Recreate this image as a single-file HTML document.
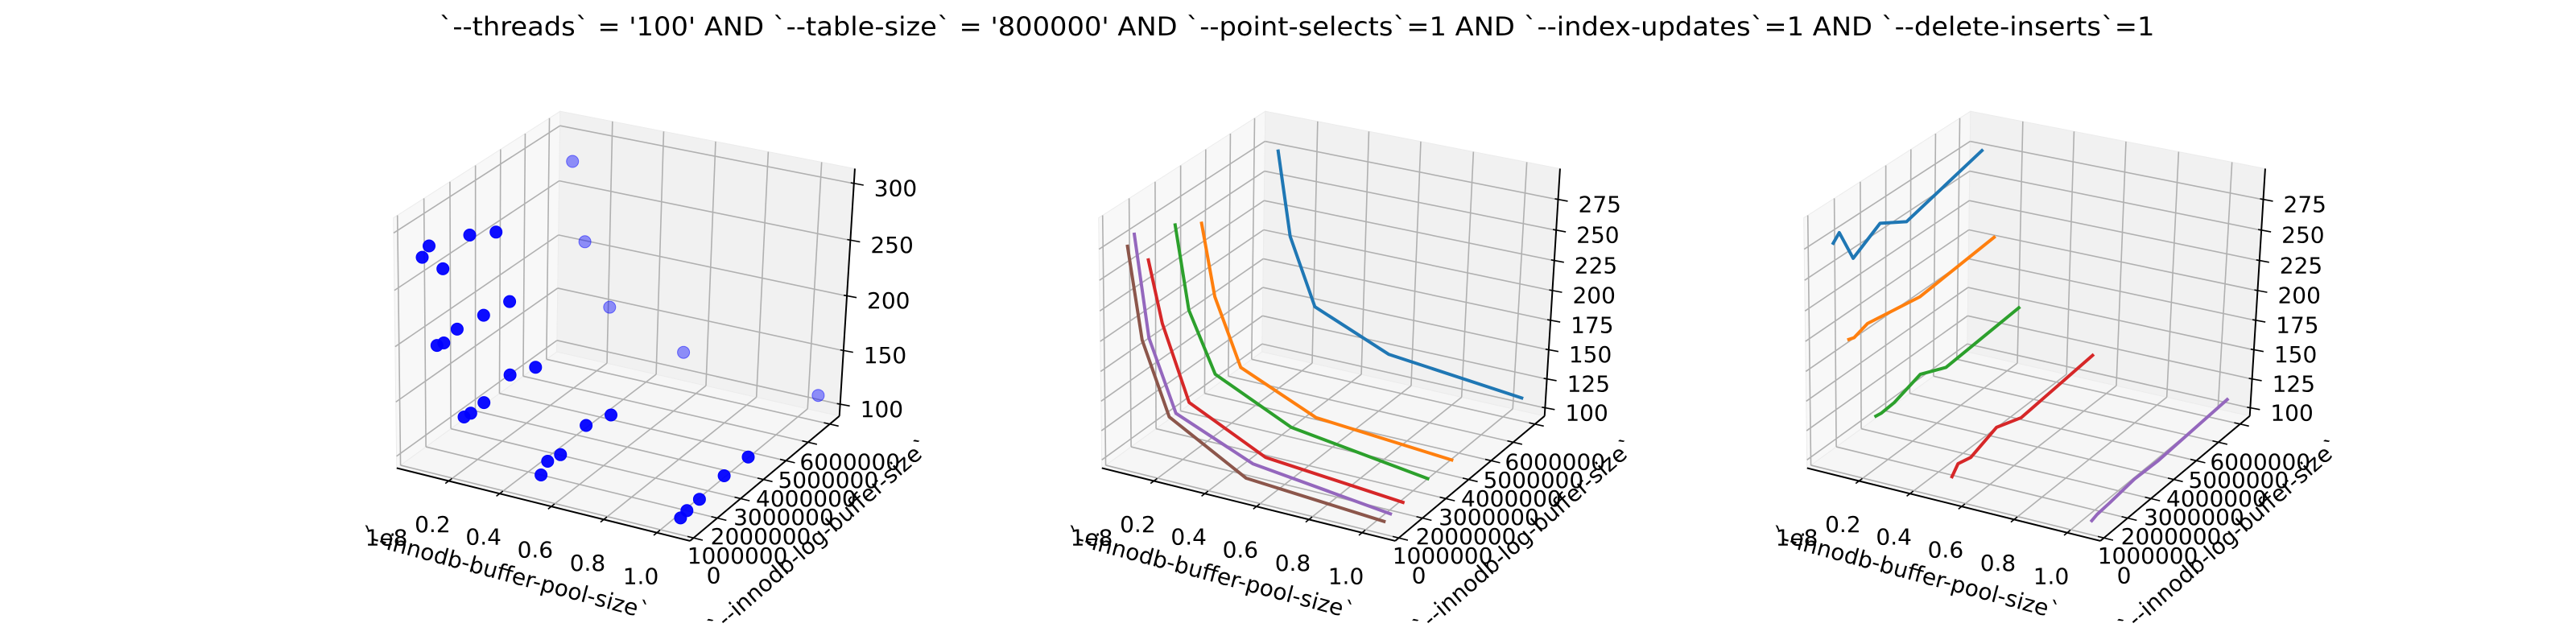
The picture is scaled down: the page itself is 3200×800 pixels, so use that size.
<!DOCTYPE html>
<html><head><meta charset="utf-8"><style>
html,body{margin:0;padding:0;background:#fff;}
svg{display:block;font-family:"DejaVu Sans","Liberation Sans",sans-serif;}
</style></head><body>
<svg id="fig" width="3200" height="800" viewBox="0 0 3200 800" xmlns="http://www.w3.org/2000/svg">
<text x="1611" y="44" font-size="32" text-anchor="middle" textLength="2131" lengthAdjust="spacingAndGlyphs">`--threads` = '100' AND `--table-size` = '800000'  AND `--point-selects`=1 AND `--index-updates`=1 AND `--delete-inserts`=1</text>
</svg>
<script>
// ---- data ----
const bufferPool = [0.06, 0.115, 0.22, 0.52, 1.05];          // x values (units of 1e8)
const logBuffer = [262144, 524288, 1048576, 2097152, 3145728, 6291456]; // y values
const tpsX0 = [276, 282, 254, 268, 255, 273];
const tpsX1 = [201, 199, 203, 199, 195, 202];
const tpsX2 = [142, 141, 142, 150, 140, 146];
const tpsX3 = [106, 114, 111, 120, 112, 119];
const tpsX4 = [98, 100, 101, 104, 103, 107];
const xTicks = [0.2, 0.4, 0.6, 0.8, 1.0];
const xTickLabels = ['0.2', '0.4', '0.6', '0.8', '1.0'];
const yTicks = [0, 1000000, 2000000, 3000000, 4000000, 5000000, 6000000];
const yTickLabels = ['0', '1000000', '2000000', '3000000', '4000000', '5000000', '6000000'];
const zTicks1 = [100, 150, 200, 250, 300];
const zTicks2 = [100, 125, 150, 175, 200, 225, 250, 275];
const colorsByLog = ['#8c564b', '#9467bd', '#d62728', '#2ca02c', '#ff7f0e', '#1f77b4'];
const colorsByPool = ['#1f77b4', '#ff7f0e', '#2ca02c', '#d62728', '#9467bd'];

const tps = [tpsX0, tpsX1, tpsX2, tpsX3, tpsX4];
const NS = 'http://www.w3.org/2000/svg';
const svg = document.getElementById('fig');

function el(tag, attrs, parent) {
  const e = document.createElementNS(NS, tag);
  for (const k in attrs) e.setAttribute(k, attrs[k]);
  (parent || svg).appendChild(e);
  return e;
}

function fitProjection(pts) {
  const A = [], b = [];
  pts.forEach(p => {
    const [u, v, w, sx, sy] = p;
    A.push([u, v, w, 1, 0, 0, 0, 0, -sx * u, -sx * v, -sx * w]); b.push(sx);
    A.push([0, 0, 0, 0, u, v, w, 1, -sy * u, -sy * v, -sy * w]); b.push(sy);
  });
  const n = 11;
  const M = [];
  for (let i = 0; i < n; i++) {
    M.push(new Array(n + 1).fill(0));
    for (let j = 0; j < n; j++) for (let r = 0; r < A.length; r++) M[i][j] += A[r][i] * A[r][j];
    for (let r = 0; r < A.length; r++) M[i][n] += A[r][i] * b[r];
  }
  for (let i = 0; i < n; i++) {
    let piv = i;
    for (let r = i + 1; r < n; r++) if (Math.abs(M[r][i]) > Math.abs(M[piv][i])) piv = r;
    [M[i], M[piv]] = [M[piv], M[i]];
    for (let r = 0; r < n; r++) {
      if (r === i) continue;
      const f = M[r][i] / M[i][i];
      for (let c = i; c <= n; c++) M[r][c] -= f * M[i][c];
    }
  }
  const p = M.map((row, i) => row[n] / row[i]);
  return (u, v, w) => {
    const d = p[8] * u + p[9] * v + p[10] * w + 1;
    return [(p[0] * u + p[1] * v + p[2] * w + p[3]) / d, (p[4] * u + p[5] * v + p[6] * w + p[7]) / d];
  };
}

const baseCorners = [
  [0, 0, 0, 497.4, 577.6], [1, 0, 0, 856.4, 676.2], [1, 1, 0, 1046.2, 510.3],
  [0, 1, 0, 684.6, 443], [0, 0, 1, 484.6, 270.4], [0, 1, 1, 702.6, 135.9], [1, 1, 1, 1059, 212.1]
];
const XLIM = [-0.007, 1.123], YLIM = [-150000, 6450000];

function makePanel(idx, zlim, zTicks) {
  const dx = idx * 876;
  const P = fitProjection(baseCorners.map(c => [c[0], c[1], c[2], c[3] + dx, c[4]]));
  const nx = x => (x - XLIM[0]) / (XLIM[1] - XLIM[0]);
  const ny = y => (y - YLIM[0]) / (YLIM[1] - YLIM[0]);
  const nz = z => (z - zlim[0]) / (zlim[1] - zlim[0]);
  const pr = (x, y, z) => P(nx(x), ny(y), nz(z));
  const g = el('g', {});
  
  
  const poly = pts => pts.map(q => P(q[0], q[1], q[2]).map(v => v.toFixed(1)).join(',')).join(' ');
  const floor = el('polygon', { points: poly([[0,0,0],[1,0,0],[1,1,0],[0,1,0]]), fill: '#f6f6f6', stroke: '#ececec' }, g);
  
  
  const left = el('polygon', { points: poly([[0,0,0],[0,1,0],[0,1,1],[0,0,1]]), fill: '#f8f8f8', stroke: '#ececec' }, g);
  
  
  const back = el('polygon', { points: poly([[0,1,0],[1,1,0],[1,1,1],[0,1,1]]), fill: '#f1f1f1', stroke: '#ececec' }, g);
  
  
  const gl = (a, b2, name) => {
    const A1 = P(...a), B1 = P(...b2);
    const l = el('line', { x1: A1[0], y1: A1[1], x2: B1[0], y2: B1[1], stroke: '#b0b0b0', 'stroke-width': 1.6 }, g);
    
    
  };
  xTicks.forEach(t => { const u = nx(t); gl([u,0,0],[u,1,0],'grid-x'); gl([u,1,0],[u,1,1],'grid-x'); });
  yTicks.forEach(t => { const v = ny(t); gl([0,v,0],[1,v,0],'grid-y'); gl([0,v,0],[0,v,1],'grid-y'); });
  zTicks.forEach(t => { const w = nz(t); gl([0,0,w],[0,1,w],'grid-z'); gl([0,1,w],[1,1,w],'grid-z'); });
  const ax = (a, b2, name) => {
    const A1 = P(...a), B1 = P(...b2);
    const l = el('line', { x1: A1[0], y1: A1[1], x2: B1[0], y2: B1[1], stroke: '#000', 'stroke-width': 2 }, g);
    
    
  };
  ax([0,0,0],[1,0,0],'x-axis-line'); ax([1,0,0],[1,1,0],'y-axis-line'); ax([1,1,0],[1,1,1],'z-axis-line');
  const tickLine = (a, b2, name) => {
    const l = el('line', { x1: a[0], y1: a[1], x2: b2[0], y2: b2[1], stroke: '#000', 'stroke-width': 1.6 }, g);
    
    
  };
  const txt = (x, y, s, anchor, name, extra) => {
    const t = el('text', Object.assign({ x: x, y: y, 'font-size': 28, 'text-anchor': anchor, 'dominant-baseline': 'central', fill: '#000' }, extra || {}), g);
    t.textContent = s;
    
    
    return t;
  };
  xTicks.forEach((t, i) => {
    const u = nx(t);
    tickLine(P(u, -0.02, 0), P(u, 0.02, 0), 'x-tick');
    const p = P(u, 0, 0);
    txt(p[0] - 20, p[1] + 54, xTickLabels[i], 'middle', 'x-tick-label');
  });
  yTicks.forEach((t, i) => {
    const v = ny(t);
    tickLine(P(1.03, v, 0), P(0.98, v, 0), 'y-tick');
    const p = P(1, v, 0);
    txt(p[0] + 25, p[1] + 47, yTickLabels[i], 'middle', 'y-tick-label');
  });
  zTicks.forEach(t => {
    const p = P(1, 1, nz(t));
    tickLine([p[0] - 4, p[1] - 1], [p[0] + 12, p[1] + 2], 'z-tick');
    txt(p[0] + 25, p[1] + 6, String(t), 'start', 'z-tick-label');
  });
  txt(627 + dx, 712, '`--innodb-buffer-pool-size`', 'middle', 'x-axis-title', { transform: 'rotate(15 ' + (627 + dx) + ' 712)' });
  txt(480 + dx, 668, '1e8', 'middle', 'x-offset-text');
  txt(1018 + dx, 666, '`--innodb-log-buffer-size`', 'middle', 'y-axis-title', { transform: 'rotate(-41 ' + (1018 + dx) + ' 666)' });
  return { g: g, pr: pr };
}

(function () {
  const pn = makePanel(0, [89, 313], zTicks1);
  const pts = [];
  bufferPool.forEach((x, i) => logBuffer.forEach((y, j) => pts.push({ x: x, y: y, z: tps[i][j], far: j === logBuffer.length - 1 })));
  pts.sort((a, b) => (a.far === b.far ? 0 : a.far ? -1 : 1));
  pts.forEach(p => {
    const s = pn.pr(p.x, p.y, p.z);
    const c = el('circle', { cx: s[0].toFixed(1), cy: s[1].toFixed(1), r: 7.5, fill: '#0000ff', 'fill-opacity': p.far ? 0.42 : 0.95, stroke: '#0000ff', 'stroke-opacity': p.far ? 0.5 : 1, 'stroke-width': 1 }, pn.g);
    
    
  });
})();

(function () {
  const pn = makePanel(1, [93, 300], zTicks2);
  for (let j = logBuffer.length - 1; j >= 0; j--) {
    const d = bufferPool.map((x, i) => pn.pr(x, logBuffer[j], tps[i][j])).map(s => s[0].toFixed(1) + ',' + s[1].toFixed(1)).join(' ');
    const l = el('polyline', { points: d, fill: 'none', stroke: colorsByLog[j], 'stroke-width': 4, 'stroke-linejoin': 'round' }, pn.g);
    
    
  }
})();

(function () {
  const pn = makePanel(2, [93, 300], zTicks2);
  bufferPool.forEach((x, i) => {
    const d = logBuffer.map((y, j) => pn.pr(x, y, tps[i][j])).map(s => s[0].toFixed(1) + ',' + s[1].toFixed(1)).join(' ');
    const l = el('polyline', { points: d, fill: 'none', stroke: colorsByPool[i], 'stroke-width': 4, 'stroke-linejoin': 'round' }, pn.g);
    
    
  });
})();
</script>
</body></html>
